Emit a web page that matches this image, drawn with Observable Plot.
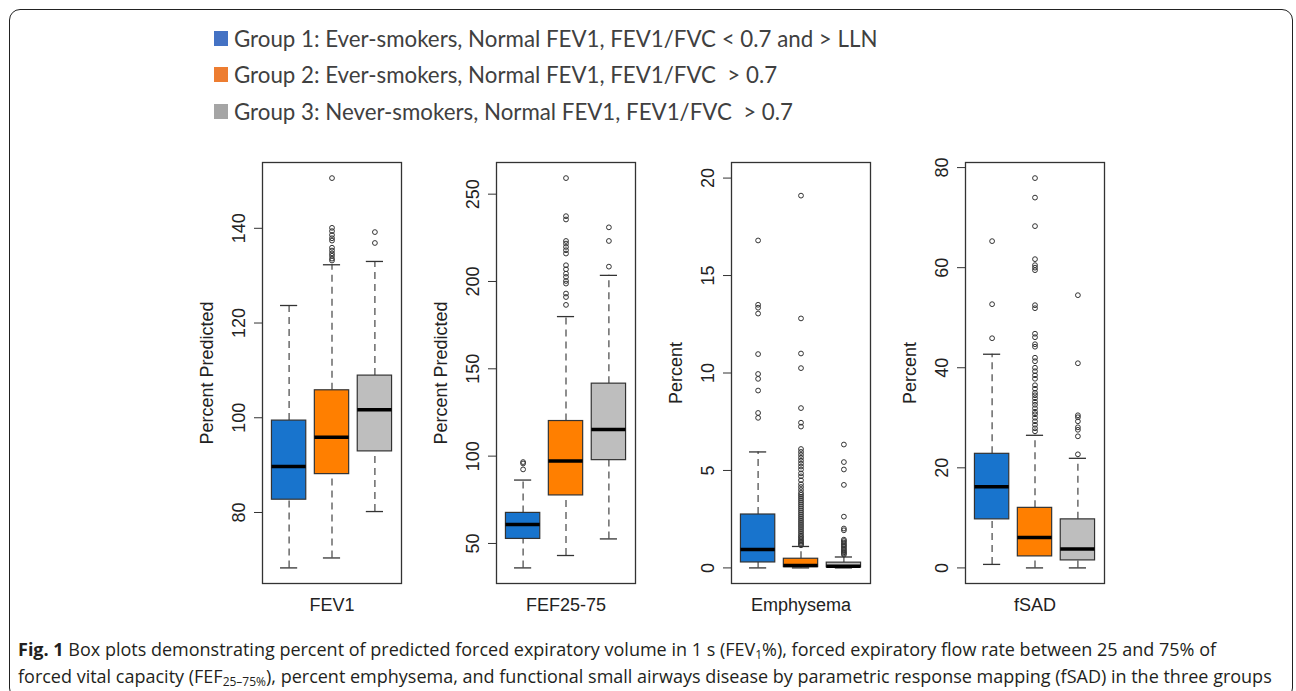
<!DOCTYPE html>
<html><head><meta charset="utf-8">
<script src="https://cdn.jsdelivr.net/npm/d3@7"></script>
<script src="https://cdn.jsdelivr.net/npm/@observablehq/plot@0.6"></script>
<style>
body{margin:0;background:#fff;}
#wrap{position:relative;width:1296px;height:691px;overflow:hidden;background:#fff;}
#border{position:absolute;left:9px;top:9px;width:1284px;height:690px;border:1.6px solid #222;border-radius:11px;box-sizing:border-box;}
.lg{position:absolute;left:214px;height:30px;display:flex;align-items:center;font-family:Lato,sans-serif;font-size:22.3px;color:#404040;white-space:pre;}
.sw{width:14px;height:15px;margin-right:6px;flex:none;}
.cap{position:absolute;left:18px;font-family:"Open Sans",sans-serif;font-size:18px;color:#231f20;white-space:nowrap;}
.cap sub{font-size:12px;vertical-align:-3px;line-height:0;}
.panel{position:absolute;}
</style></head>
<body><div id="wrap"><div id="border"></div></div>
<script>
const groups = ["Group 1", "Group 2", "Group 3"];
const legendLabels = [
  "Group 1: Ever-smokers, Normal FEV1, FEV1/FVC < 0.7 and > LLN",
  "Group 2: Ever-smokers, Normal FEV1, FEV1/FVC  > 0.7",
  "Group 3: Never-smokers, Normal FEV1, FEV1/FVC  > 0.7"
];
const legendColors = ["#4472C4", "#ED7D31", "#A5A5A5"];
const boxColors = ["#1874CD", "#FF7F00", "#BEBEBE"];
const panels = ["FEV1", "FEF25-75", "Emphysema", "fSAD"];
const yTitles = ["Percent Predicted", "Percent Predicted", "Percent", "Percent"];
const yTicks = [[80, 100, 120, 140], [50, 100, 150, 200, 250], [0, 5, 10, 15, 20], [0, 20, 40, 60, 80]];
const yLimits = [null, null, [0, 20], null];

// per group: [lower whisker, Q1, median, Q3, upper whisker]
const fev1Stats = [[68.3, 82.7, 89.7, 99.4, 123.7], [70.4, 88.1, 95.9, 105.8, 132.3], [80.2, 92.9, 101.7, 108.9, 133.0]];
const fev1Outliers = [[], [150.6, 140.1, 139.4, 138.6, 137.9, 137.4, 135.9, 135.3, 134.7, 134.2, 133.6, 133.2], [139.2, 136.9]];

const fefStats = [[36.0, 52.6, 60.9, 67.5, 86.3], [43.1, 77.5, 97.2, 120.1, 179.9], [52.6, 97.7, 115.3, 141.5, 203.5]];
const fefOutliers = [
  [92.4, 95.8, 96.6],
  [259.2, 237.4, 235.5, 223.2, 221.7, 219.8, 217.9, 216.0, 209.3, 207.0, 204.5, 202.6, 200.3, 198.8, 193.1, 191.1, 186.6],
  [231.0, 223.2, 208.5]
];

const emphStats = [[0, 0.28, 0.94, 2.74, 5.95], [0, 0.04, 0.12, 0.47, 1.1], [0, 0.03, 0.09, 0.27, 0.56]];
const emphOutliers = [
  [16.8, 13.5, 13.35, 13.05, 10.97, 9.95, 9.7, 9.1, 7.95, 7.7],
  [19.1, 12.8, 11.0, 10.25, 8.2, 7.45, 7.25, 6.1, 5.95, 5.8, 5.65, 5.5, 5.35, 5.2, 5.05, 4.85, 4.7, 4.5, 4.3, 4.15, 4.0, 3.85, 3.75, 3.65, 3.55, 3.45, 3.35, 3.25, 3.15, 3.05, 2.95, 2.85, 2.75, 2.65, 2.55, 2.45, 2.35, 2.25, 2.15, 2.05, 1.95, 1.85, 1.75, 1.65, 1.58, 1.5, 1.42, 1.35, 1.28, 1.22, 1.16],
  [6.33, 5.43, 5.05, 4.26, 2.63, 2.02, 1.93, 1.45, 1.38, 1.3, 1.22, 1.15, 1.08, 1.0, 0.93, 0.86, 0.8, 0.74, 0.68]
];

const fsadStats = [[0.7, 9.7, 16.2, 22.8, 42.7], [0, 2.3, 6.1, 12.0, 26.5], [0, 1.5, 3.8, 9.7, 21.9]];
const fsadOutliers = [
  [65.3, 52.7, 45.9],
  [77.9, 74.0, 68.3, 61.7, 60.5, 60.0, 59.5, 52.5, 51.9, 46.8, 46.1, 44.7, 44.2, 42.0, 41.3, 40.0, 39.3, 38.5, 37.8, 36.5, 35.8, 35.0, 34.5, 33.9, 33.2, 32.6, 31.9, 31.2, 30.7, 30.0, 29.3, 28.6, 27.9, 27.3],
  [54.5, 40.9, 30.5, 30.1, 29.3, 28.1, 27.6, 26.3, 22.7]
];

const panelStats = [fev1Stats, fefStats, emphStats, fsadStats];
const panelOutliers = [fev1Outliers, fefOutliers, emphOutliers, fsadOutliers];

const wrap = document.getElementById("wrap");

// legend
legendLabels.forEach((t, i) => {
  const row = document.createElement("div");
  row.className = "lg";
  row.style.top = (23 + i * 36.5) + "px";
  const sw = document.createElement("div");
  sw.className = "sw";
  sw.style.background = legendColors[i];
  row.appendChild(sw);
  row.appendChild(document.createTextNode(t));
  wrap.appendChild(row);
});

// panels
const n = groups.length;
const xDomain = [0.5 - 0.04 * n, n + 0.5 + 0.04 * n];
const ML = 80, MR = 6, MT = 10, MB = 40, FW = 139, FH = 421;
panels.forEach((name, k) => {
  const stats = panelStats[k].map((s, i) => ({i: i + 1, lo: s[0], q1: s[1], med: s[2], q3: s[3], hi: s[4], color: boxColors[i]}));
  const outs = panelOutliers[k].flatMap((arr, i) => arr.map(v => ({i: i + 1, v})));
  const lim = yLimits[k] || d3.extent([...stats.flatMap(d => [d.lo, d.hi]), ...outs.map(d => d.v)]);
  const pad = 0.04 * (lim[1] - lim[0]);
  const whisk = {stroke: "#444", strokeWidth: 1.2, strokeDasharray: "7,5"};
  const cap = {stroke: "#333", strokeWidth: 1.3, x1: d => d.i - 0.2, x2: d => d.i + 0.2};
  const plot = Plot.plot({
    width: ML + FW + MR, height: MT + FH + MB,
    marginLeft: ML, marginRight: MR, marginTop: MT, marginBottom: MB,
    x: {domain: xDomain, axis: null},
    y: {domain: [lim[0] - pad, lim[1] + pad], axis: null},
    color: {type: "identity"},
    style: {fontFamily: "'Liberation Sans', Arial, sans-serif", fontSize: "18px", color: "#222", background: "transparent", overflow: "visible"},
    marks: [
      Plot.ruleX(stats, {x: "i", y1: "q3", y2: "hi", ...whisk}),
      Plot.ruleX(stats, {x: "i", y1: "lo", y2: "q1", ...whisk}),
      Plot.ruleY(stats, {y: "hi", ...cap}),
      Plot.ruleY(stats, {y: "lo", ...cap}),
      Plot.rect(stats, {x1: d => d.i - 0.4, x2: d => d.i + 0.4, y1: "q1", y2: "q3", fill: "color", stroke: "#333", strokeWidth: 1.2}),
      Plot.ruleY(stats, {y: "med", x1: d => d.i - 0.4, x2: d => d.i + 0.4, stroke: "#000", strokeWidth: 3.5}),
      Plot.dot(outs, {x: "i", y: "v", r: 2.4, stroke: "#333", strokeWidth: 1, fill: "none"}),
      Plot.frame({stroke: "#333", strokeWidth: 1.3}),
      Plot.axisY({ticks: yTicks[k], tickSize: 8, tickRotate: -90, tickPadding: 10, stroke: "#333"}),
      Plot.text([yTitles[k]], {frameAnchor: "left", dx: -55, rotate: -90, textAnchor: "middle", lineAnchor: "middle", text: d => d, fontSize: 18, fill: "#222"}),
      Plot.text([name], {frameAnchor: "bottom", dy: 22, textAnchor: "middle", lineAnchor: "middle", text: d => d, fontSize: 18, fill: "#222"})
    ]
  });
  plot.classList.add("panel");
  plot.style.left = (262 + k * 234.33 - ML) + "px";
  plot.style.top = (162 - MT) + "px";
  wrap.appendChild(plot);
});

// caption
const capLines = [
  '<b>Fig. 1</b> Box plots demonstrating percent of predicted forced expiratory volume in 1 s (FEV<sub>1</sub>%), forced expiratory flow rate between 25 and 75% of',
  'forced vital capacity (FEF<sub>25–75%</sub>), percent emphysema, and functional small airways disease by parametric response mapping (fSAD) in the three groups'
];
capLines.forEach((h, i) => {
  const d = document.createElement("div");
  d.className = "cap";
  d.style.top = (637 + i * 27) + "px";
  d.innerHTML = h;
  wrap.appendChild(d);
});
</script></body></html>
